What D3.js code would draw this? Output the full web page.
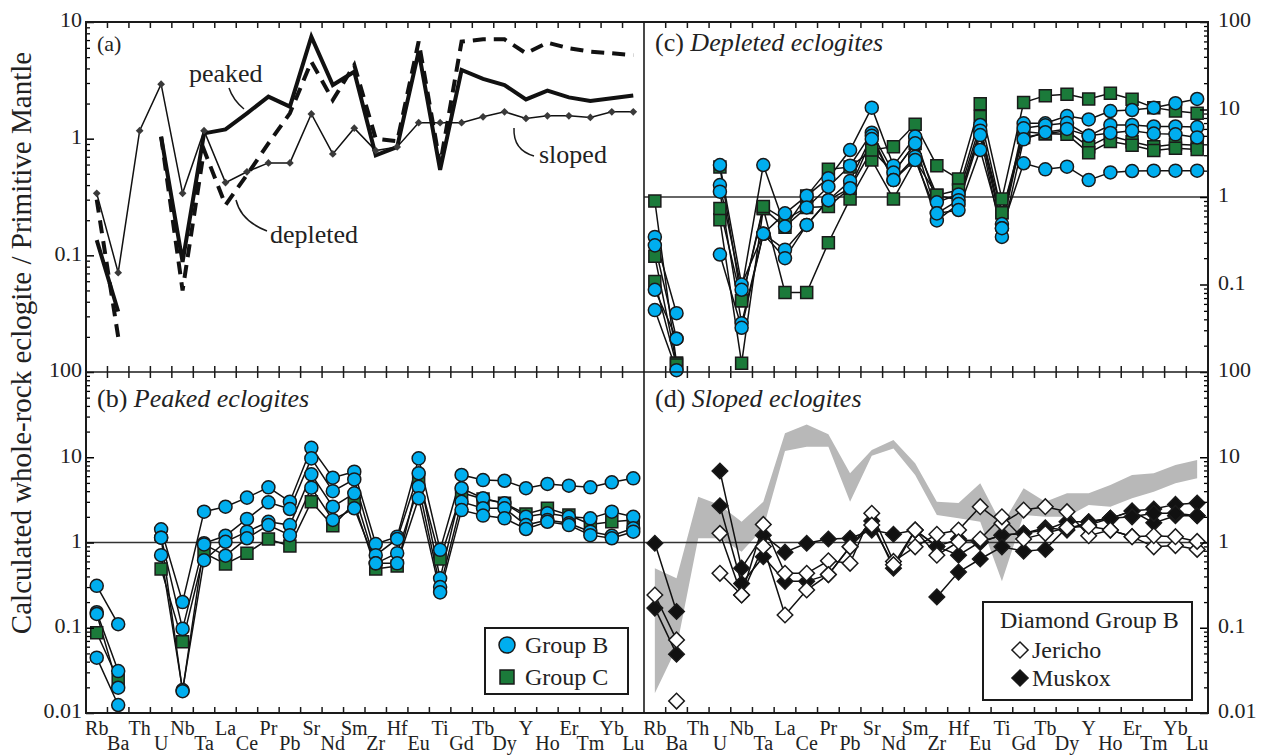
<!DOCTYPE html>
<html lang="en">
<head>
<meta charset="UTF-8">
<title>Eclogite trace element patterns</title>
<script src="https://d3js.org/d3.v7.min.js"></script>
<style>
    body { margin: 0; background: #fff; }
    svg, svg text { font-family: 'Liberation Serif', 'DejaVu Serif', serif; }
    svg text { fill: #222; }
</style>
</head>
<body>
<div id="chart"></div>
<script>
    const elements = ["Rb", "Ba", "Th", "U", "Nb", "Ta", "La", "Ce", "Pr", "Pb", "Sr", "Nd", "Sm",
        "Zr", "Hf", "Eu", "Ti", "Gd", "Tb", "Dy", "Y", "Ho", "Er", "Tm", "Yb", "Lu"];

    // (a) average patterns
    const slopedAvg = [0.34, 0.071, 1.17, 2.93, 0.34, 1.17, 0.42, 0.52, 0.62, 0.62, 1.63, 0.74, 1.23,
        0.79, 0.85, 1.37, 1.37, 1.37, 1.54, 1.70, 1.49, 1.57, 1.57, 1.52, 1.70, 1.70];
    const peakedAvg = [0.135, 0.033, null, 1.04, 0.088, 1.11, 1.2, 1.65, 2.29, 1.88, 7.48, 2.88, 3.75,
        0.72, 0.85, 5.6, 0.54, 3.88, 3.25, 2.88, 2.17, 2.58, 2.26, 2.1, 2.22, 2.34];
    const depletedAvg = [0.30, 0.02, null, 1.04, 0.05, 0.8, 0.27, 0.49, 0.91, 1.65, 4.57, 2.14, 4.28,
        1.0, 0.95, 6.8, 0.6, 6.8, 7.1, 7.1, 5.4, 6.65, 5.95, 5.57, 5.4, 5.2];

    // (b) peaked eclogites
    const peakedGroupB = [
        [0.31, 0.11, null, 1.43, 0.20, 2.3, 2.63, 3.36, 4.44, 3.01, 12.9, 5.75, 6.77, 0.96, 1.17, 9.7, 0.82, 6.2, 5.4, 5.3, 4.33, 4.86, 4.64, 4.44, 5.08, 5.66],
        [0.152, 0.031, null, 1.14, 0.097, 0.98, 1.2, 1.89, 2.96, 2.47, 9.7, 4.0, 5.5, 0.71, 1.1, 6.5, 0.38, 4.33, 3.3, 2.88, 2.0, 2.2, 2.0, 1.92, 2.3, 2.0],
        [0.145, 0.0198, null, 0.71, 0.0186, 0.62, 1.02, 1.34, 1.75, 1.6, 6.3, 2.63, 3.77, 0.57, 0.75, 4.5, 0.30, 3.0, 2.52, 2.52, 1.6, 1.84, 1.68, 1.34, 1.2, 1.47],
        [0.0446, 0.0124, null, 1.14, 0.018, 0.95, 0.70, 1.12, 1.6, 1.22, 4.4, 1.84, 2.52, 0.57, 0.57, 3.3, 0.26, 2.4, 2.07, 1.92, 1.44, 1.75, 1.6, 1.22, 1.12, 1.34]
    ];
    const peakedGroupC = [
        [0.0875, 0.0244, null, 0.49, 0.0687, 0.75, 0.56, 0.75, 1.1, 0.91, 3.01, 1.57, 2.88, 0.49, 0.53, 5.75, 0.64, 3.84, 3.24, 2.88, 2.16, 2.52, 2.1, 1.63, 1.75, 1.84]
    ];

    // (c) depleted eclogites
    const depletedGroupB = [
        [0.35, 0.047, null, 2.32, 0.10, 0.38, 0.65, 1.03, 1.64, 3.44, 10.5, 2.28, 4.9, 0.87, 1.07, 6.65, 0.49, 6.95, 6.95, 8.4, 7.7, 9.6, 9.86, 10.5, 11.8, 13.2],
        [0.28, 0.024, null, 1.37, 0.087, 2.32, 0.46, 0.76, 1.31, 2.28, 5.43, 1.9, 4.1, 0.65, 0.92, 5.73, 0.44, 6.1, 6.6, 7.0, 5.0, 6.65, 6.65, 6.4, 6.4, 6.3],
        [0.087, 0.024, null, 1.15, 0.036, 0.38, 0.25, 0.48, 0.92, 1.52, 5.0, 1.56, 2.89, 0.54, 0.83, 5.1, 0.35, 4.56, 5.5, 6.0, 5.0, 5.4, 5.7, 5.3, 5.2, 4.8],
        [0.051, 0.0105, null, 0.22, 0.032, 0.38, 0.20, 0.48, 0.92, 1.26, 4.6, 1.56, 2.65, 0.65, 0.71, 3.44, 0.44, 2.43, 2.07, 2.22, 1.56, 1.91, 1.98, 2.0, 2.0, 2.0]
    ];
    const depletedGroupC = [
        [0.9, 0.0126, null, 2.2, 0.065, 0.74, 0.45, 1.03, 2.07, 2.2, 3.44, 3.76, 6.8, 2.28, 1.61, 11.6, 0.95, 12.0, 14.4, 14.9, 13.2, 15.3, 13.1, 10.5, 9.6, 9.06],
        [0.21, 0.0126, null, 0.55, 0.0126, 0.74, 0.081, 0.081, 0.30, 0.95, 2.65, 0.95, 2.65, 1.05, 1.2, 8.3, 0.66, 5.6, 5.3, 5.7, 3.76, 5.0, 4.29, 3.76, 4.0, 3.9],
        [0.108, 0.012, null, 0.74, 0.065, 0.78, 0.55, 0.76, 0.78, 1.26, 3.44, 1.9, 4.1, 1.05, 0.92, 5.73, 0.66, 4.8, 5.3, 5.2, 3.2, 4.3, 3.9, 3.4, 3.6, 3.5]
    ];

    // (d) sloped eclogites, grey field and diamond samples
    const slopedRangeLow = [0.017, 0.058, 1.12, 1.12, 0.78, 1.47, 11.8, 13.3, 13.3, 3.0, 10.4, 12.7, 6.2,
        2.1, 1.92, 1.75, 0.35, 2.1, 2.0, 2.0, 2.75, 2.63, 3.3, 3.95, 4.94, 5.66];
    const slopedRangeHigh = [0.50, 0.38, 3.44, 2.75, 1.75, 3.0, 19.1, 24.3, 18.6, 6.5, 12.2, 15.9, 8.5,
        3.0, 2.9, 4.94, 1.6, 4.33, 3.0, 3.77, 3.77, 4.72, 6.2, 6.5, 8.1, 9.3];
    const jericho = [
        [0.242, 0.072, null, 1.28, 0.242, 1.63, 0.435, 0.435, 0.61, 0.57, 2.2, 0.6, 0.89, 1.25, 1.4, 2.63, 1.68, 2.4, 2.63, 2.3, 1.2, 1.4, 1.17, 0.89, 0.92, 0.83],
        [null, 0.0138, null, 0.435, 0.242, 0.9, 0.141, 0.277, 0.42, 0.89, 1.6, 0.55, 1.4, 0.71, 1.02, 1.1, 2.0, 1.1, 1.28, 1.5, 1.55, 1.4, 1.17, 1.2, 1.17, 1.03]
    ];
    const muskox = [
        [0.98, 0.155, null, 6.9, 0.5, 1.22, 0.77, 0.98, 1.1, 1.12, 1.4, 1.25, 1.4, 0.9, 0.71, 1.02, 1.22, 1.28, 1.49, 1.4, 1.75, 1.92, 2.34, 2.47, 2.8, 2.9],
        [0.17, 0.049, null, 2.7, 0.33, 0.68, 0.35, 0.35, 0.42, 0.89, 1.79, 0.5, 1.4, 0.9, 1.1, 1.0, 1.22, 1.28, 1.4, 1.75, 1.75, 1.92, 2.34, 1.7, 2.06, 2.06],
        [null, null, null, null, null, null, null, null, null, null, null, null, null, 0.23, 0.45, 0.64, 0.89, 0.79, 0.83, 1.5, 1.6, 1.92, 2.0, 2.2, 2.2, 2.06]
    ];

    // labelled ticks per panel
    const ticksA = [0.1, 1, 10];
    const ticksB = [0.01, 0.1, 1, 10, 100];
    const ticksC = [0.1, 1, 10, 100];
    const ticksD = [0.01, 0.1, 1, 10, 100];

    const blue = "#00aeef", green = "#1b7a3a", ink = "#1a1a1a";
    const serif = "'Liberation Serif', 'DejaVu Serif', serif";

    const svg = d3.select("#chart").append("svg")
        .attr("width", 1263)
        .attr("height", 755)
        .attr("font-family", serif);

    const xL = d3.scaleBand().domain(elements).range([86, 644]);
    const xR = d3.scaleBand().domain(elements).range([644, 1208]);
    const yA = d3.scaleLog().domain([0.01, 10]).range([372, 22]);
    const yB = d3.scaleLog().domain([0.01, 100]).range([713, 372]);
    const yC = d3.scaleLog().domain([0.01, 100]).range([372, 22]);
    const yD = d3.scaleLog().domain([0.01, 100]).range([713, 372]);

    const cx = (x, el) => x(el) + x.bandwidth() / 2;
    const rows = vals => vals.map((v, i) => ({ el: elements[i], v: v }));
    const lineFor = (x, y) => d3.line()
        .defined(d => d.v !== null)
        .x(d => cx(x, d.el))
        .y(d => y(d.v));

    function drawLines(g, x, y, series, width) {
        return g.selectAll(null).data(series.map(rows)).join("path")
            .attr("fill", "none")
            .attr("stroke", "#111")
            .attr("stroke-width", width || 1.5)
            .attr("d", lineFor(x, y));
    }

    function drawMarkers(g, x, y, series, shape, fill, size) {
        const pts = series.flatMap(vals => rows(vals).filter(d => d.v !== null));
        g.selectAll(null).data(pts).join("path")
            .attr("transform", d => `translate(${cx(x, d.el)},${y(d.v)})` + (shape === "diamond" ? " rotate(45)" : ""))
            .attr("d", d3.symbol(shape === "circle" ? d3.symbolCircle : d3.symbolSquare, size))
            .attr("fill", fill)
            .attr("stroke", ink)
            .attr("stroke-width", 1.5);
    }

    // grey field of sloped eclogites (d)
    svg.append("path")
        .datum(elements.map((el, i) => ({ el: el, lo: slopedRangeLow[i], hi: slopedRangeHigh[i] })))
        .attr("fill", "#b8b8b8")
        .attr("d", d3.area().x(d => cx(xR, d.el)).y0(d => yD(d.lo)).y1(d => yD(d.hi)));

    // primitive mantle = 1
    [[xL, yB], [xR, yC], [xR, yD]].forEach(([x, y]) => {
        svg.append("line")
            .attr("x1", x.range()[0]).attr("x2", x.range()[1])
            .attr("y1", y(1)).attr("y2", y(1))
            .attr("stroke", "#333").attr("stroke-width", 1.5);
    });

    // (a)
    const gA = svg.append("g");
    drawLines(gA, xL, yA, [slopedAvg], 1.5);
    drawLines(gA, xL, yA, [peakedAvg], 4);
    drawLines(gA, xL, yA, [depletedAvg], 4).attr("stroke-dasharray", "13,8");
    gA.selectAll(null).data(rows(slopedAvg)).join("path")
        .attr("transform", d => `translate(${cx(xL, d.el)},${yA(d.v)}) rotate(45)`)
        .attr("d", d3.symbol(d3.symbolSquare, 30))
        .attr("fill", "#3a3a3a");

    // (b)
    const gB = svg.append("g");
    drawLines(gB, xL, yB, peakedGroupB.concat(peakedGroupC));
    drawMarkers(gB, xL, yB, peakedGroupC, "square", green, 144);
    drawMarkers(gB, xL, yB, peakedGroupB, "circle", blue, 133);

    // (c)
    const gC = svg.append("g");
    drawLines(gC, xR, yC, depletedGroupC.concat(depletedGroupB));
    drawMarkers(gC, xR, yC, depletedGroupC, "square", green, 144);
    drawMarkers(gC, xR, yC, depletedGroupB, "circle", blue, 133);

    // (d)
    const gD = svg.append("g");
    drawLines(gD, xR, yD, jericho.concat(muskox));
    drawMarkers(gD, xR, yD, muskox, "diamond", "#111", 121);
    drawMarkers(gD, xR, yD, jericho, "diamond", "#fff", 121);

    // y axes: minor ticks and labelled majors
    function logMinors(scale) {
        const [a, b] = scale.domain();
        const out = [];
        for (let k = Math.round(Math.log10(a)); k < Math.round(Math.log10(b)); k++) {
            for (let m = 2; m <= 9; m++) out.push(m * Math.pow(10, k));
        }
        return out;
    }

    function yAxis(y, labelled, side) {
        const pos = side === "left" ? 86 : 1208;
        const make = side === "left" ? d3.axisLeft : d3.axisRight;
        svg.append("g")
            .attr("transform", `translate(${pos},0)`)
            .call(make(y).tickValues(logMinors(y)).tickSize(-4).tickFormat(""))
            .call(g => g.select(".domain").remove())
            .selectAll("line").attr("stroke-width", 1.3);
        const maj = svg.append("g")
            .attr("transform", `translate(${pos},0)`)
            .call(make(y).tickValues(labelled).tickSize(-8).tickPadding(side === "left" ? 4 : 10).tickFormat(d => String(d)))
            .call(g => g.select(".domain").remove());
        maj.attr("font-size", 22).attr("font-family", serif);
        maj.selectAll("line").attr("stroke-width", 1.5);
        maj.selectAll("text").attr("dy", "0.22em").attr("fill", "#222");
    }
    yAxis(yA, ticksA, "left");
    yAxis(yB, ticksB, "left");
    yAxis(yC, ticksC, "right");
    yAxis(yD, ticksD, "right");

    // x ticks on band boundaries and staggered element labels
    [xL, xR].forEach(x => {
        const bounds = elements.slice(1).map(el => x(el));
        const tg = svg.append("g").attr("stroke", ink).attr("stroke-width", 1.5);
        [[22, 28], [366, 378], [707, 714]].forEach(([a, b]) => {
            tg.selectAll(null).data(bounds).join("line")
                .attr("x1", d => d).attr("x2", d => d)
                .attr("y1", a).attr("y2", b);
        });
        svg.append("g").selectAll("text").data(elements).join("text")
            .attr("x", el => cx(x, el))
            .attr("y", (el, i) => i % 2 ? 750 : 735)
            .attr("text-anchor", "middle")
            .attr("font-size", 20)
            .text(el => el);
    });

    // frame
    svg.append("rect")
        .attr("x", 86).attr("y", 22).attr("width", 1208 - 86).attr("height", 713 - 22)
        .attr("fill", "none").attr("stroke", ink).attr("stroke-width", 2);
    svg.append("line").attr("x1", 644).attr("x2", 644).attr("y1", 22).attr("y2", 713)
        .attr("stroke", ink).attr("stroke-width", 1.6);
    svg.append("line").attr("x1", 86).attr("x2", 1208).attr("y1", 372).attr("y2", 372)
        .attr("stroke", ink).attr("stroke-width", 1.6);

    // panel titles
    const titles = [
        { x: 97, y: 51, tag: "(a)", name: "" },
        { x: 655, y: 51, tag: "(c) ", name: "Depleted eclogites" },
        { x: 97, y: 407, tag: "(b) ", name: "Peaked eclogites" },
        { x: 655, y: 407, tag: "(d) ", name: "Sloped eclogites" }
    ];
    titles.forEach(t => {
        const txt = svg.append("text").attr("x", t.x).attr("y", t.y)
            .attr("font-size", t.name ? 26 : 22).attr("xml:space", "preserve");
        txt.append("tspan").text(t.tag);
        txt.append("tspan").attr("font-style", "italic").text(t.name);
    });

    // annotations in (a)
    const notes = [
        { text: "peaked", x: 189, y: 82, path: "M229,88 Q233,100 244,109" },
        { text: "sloped", x: 539, y: 163, path: "M514,128 Q513,150 534,156" },
        { text: "depleted", x: 270, y: 243, path: "M236,200 Q241,221 267,231" }
    ];
    notes.forEach(n => {
        svg.append("text").attr("x", n.x).attr("y", n.y).attr("font-size", 26).text(n.text);
        svg.append("path").attr("d", n.path).attr("fill", "none").attr("stroke", ink).attr("stroke-width", 1.5);
    });

    // legend (b)
    const lb = svg.append("g");
    lb.append("rect").attr("x", 485).attr("y", 628).attr("width", 143).attr("height", 66)
        .attr("fill", "#fff").attr("stroke", ink).attr("stroke-width", 2);
    lb.append("circle").attr("cx", 507).attr("cy", 645).attr("r", 8)
        .attr("fill", blue).attr("stroke", ink).attr("stroke-width", 1.5);
    lb.append("rect").attr("x", 500).attr("y", 670).attr("width", 14).attr("height", 14)
        .attr("fill", green).attr("stroke", ink).attr("stroke-width", 1.5);
    lb.append("text").attr("x", 525).attr("y", 653).attr("font-size", 24).text("Group B");
    lb.append("text").attr("x", 525).attr("y", 685).attr("font-size", 24).text("Group C");

    // legend (d)
    const ld = svg.append("g");
    ld.append("rect").attr("x", 983).attr("y", 602).attr("width", 209).attr("height", 98)
        .attr("fill", "#fff").attr("stroke", ink).attr("stroke-width", 2);
    ld.append("text").attr("x", 1000).attr("y", 628).attr("font-size", 24).text("Diamond Group B");
    [["Jericho", "#fff", 650], ["Muskox", "#111", 678]].forEach(([name, fill, yy]) => {
        ld.append("path").attr("transform", `translate(1020,${yy}) rotate(45)`)
            .attr("d", d3.symbol(d3.symbolSquare, 130))
            .attr("fill", fill).attr("stroke", ink).attr("stroke-width", 1.5);
        ld.append("text").attr("x", 1032).attr("y", yy + 8).attr("font-size", 24).text(name);
    });

    // y title
    svg.append("text")
        .attr("transform", "translate(31,343) rotate(-90)")
        .attr("text-anchor", "middle")
        .attr("font-size", 29)
        .text("Calculated whole-rock eclogite / Primitive Mantle");
</script>
</body>
</html>
